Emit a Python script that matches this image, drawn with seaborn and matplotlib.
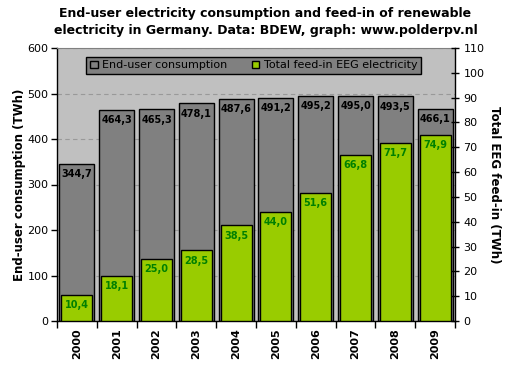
#!/usr/bin/env python3
import pandas as pd
import seaborn as sns
import matplotlib.pyplot as plt
from matplotlib.patches import Patch
from matplotlib.ticker import MultipleLocator, FixedLocator

# Data: BDEW, end-user consumption and EEG feed-in (TWh)
years = ['2000', '2001', '2002', '2003', '2004', '2005', '2006', '2007', '2008', '2009']
consumption = [344.7, 464.3, 465.3, 478.1, 487.6, 491.2, 495.2, 495.0, 493.5, 466.1]
eeg_feedin = [10.4, 18.1, 25.0, 28.5, 38.5, 44.0, 51.6, 66.8, 71.7, 74.9]

df = pd.DataFrame({'Year': years, 'Consumption': consumption, 'EEG': eeg_feedin})

W, H = 531, 371
fig = plt.figure(figsize=(W / 100, H / 100), dpi=100)
fig.patch.set_facecolor('white')

ax = fig.add_axes([57 / W, (H - 321) / H, (455 - 57) / W, (321 - 48) / H])
ax.set_facecolor('#C0C0C0')

# consumption bars (left axis)
sns.barplot(data=df, x='Year', y='Consumption', color='#808080', saturation=1,
            width=0.88, edgecolor='black', linewidth=1, ax=ax, zorder=2)
ax.bar_label(ax.containers[0], labels=[f'{v:.1f}'.replace('.', ',') for v in consumption],
             padding=-11, fontsize=7, fontweight='bold', color='black')

ax.set_ylim(0, 600)
ax.set_xlim(-0.5, 9.5)
ax.yaxis.set_major_locator(MultipleLocator(100))
ax.grid(axis='y', color='#999999', linestyle=(0, (4, 3)), linewidth=0.8, zorder=0)
ax.set_axisbelow(True)
ax.set_ylabel('End-user consumption (TWh)', fontsize=8.5, fontweight='bold', labelpad=1)
ax.set_xlabel('')
ax.tick_params(axis='y', labelsize=8, length=4, width=1, direction='out', pad=2)

# year ticks at the category boundaries
ax.xaxis.set_minor_locator(FixedLocator([i - 0.5 for i in range(11)]))
ax.tick_params(axis='x', which='major', length=0, labelsize=8, pad=5)
ax.tick_params(axis='x', which='minor', length=5, width=1, direction='out')
for lbl in ax.get_xticklabels():
    lbl.set_rotation(90)
    lbl.set_fontweight('bold')

for side in ['left', 'bottom']:
    ax.spines[side].set_color('black')
    ax.spines[side].set_linewidth(1)
ax.spines['top'].set_color('#808080')
ax.spines['right'].set_visible(False)

# EEG feed-in bars (right axis)
ax2 = ax.twinx()
sns.barplot(data=df, x='Year', y='EEG', color='#99CC00', saturation=1,
            width=0.78, edgecolor='black', linewidth=1, ax=ax2, zorder=3)
ax2.bar_label(ax2.containers[0], labels=[f'{v:.1f}'.replace('.', ',') for v in eeg_feedin],
              padding=-11, fontsize=7, fontweight='bold', color='#008000')
ax2.set_ylim(0, 110)
ax2.set_xlim(-0.5, 9.5)
ax2.yaxis.set_major_locator(MultipleLocator(10))
ax2.set_ylabel('Total EEG feed-in (TWh)', fontsize=8.5, fontweight='bold',
               rotation=270, labelpad=12)
ax2.set_xlabel('')
ax2.tick_params(axis='y', labelsize=8, length=6, width=1, direction='inout', pad=3)
ax2.spines['right'].set_color('black')
ax2.spines['right'].set_linewidth(1)
for side in ['left', 'top', 'bottom']:
    ax2.spines[side].set_visible(False)

# legend
handles = [Patch(facecolor='#808080', edgecolor='black', label='End-user consumption'),
           Patch(facecolor='#99CC00', edgecolor='black', label='Total feed-in EEG electricity')]
leg = ax2.legend(handles=handles, loc='center', bbox_to_anchor=(0.494, 0.936), ncol=2,
                 fontsize=8, frameon=True, fancybox=False, framealpha=1,
                 facecolor='#808080', edgecolor='black', handlelength=0.7,
                 handleheight=0.7, handletextpad=0.4, columnspacing=2.2,
                 borderpad=0.35)
leg.get_frame().set_linewidth(1)

fig.text(0.5, (H - 7) / H,
         'End-user electricity consumption and feed-in of renewable\n'
         'electricity in Germany. Data: BDEW, graph: www.polderpv.nl',
         ha='center', va='top', fontsize=9, fontweight='bold', linespacing=1.4)

plt.savefig('out.png', dpi=100)
plt.close()
